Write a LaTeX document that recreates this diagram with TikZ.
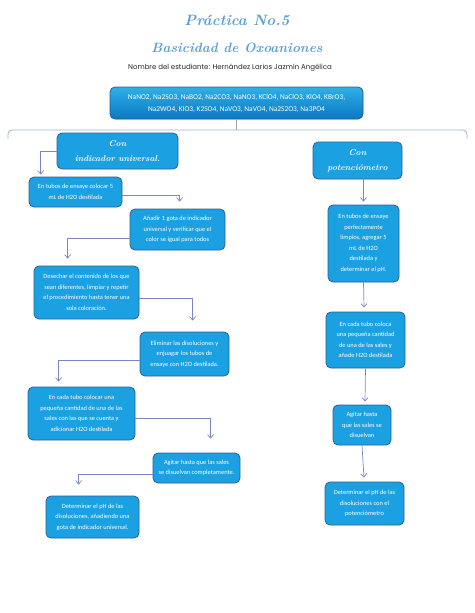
\documentclass[tikz,border=0pt]{standalone}
\usepackage{fontspec}
\setmainfont{Latin Modern Roman}
\newfontfamily\boxfont{Carlito}
\newfontfamily\subfont{Poppins}
\usetikzlibrary{arrows.meta,calc}
\definecolor{boxfill}{HTML}{1BA1E2}
\definecolor{boxedge}{HTML}{2A5F95}
\definecolor{arrcol}{HTML}{7C86C4}
\definecolor{brcol}{HTML}{9DB2D0}
\definecolor{titlecol}{HTML}{5A9FD8}
\definecolor{topA}{HTML}{2FB0E8}
\definecolor{topB}{HTML}{0A78C2}
\tikzset{
  stepbox/.style={draw=boxedge, line width=0.8pt, fill=boxfill, rounded corners=5pt,
    text=white, align=center, inner sep=1pt,
    font=\boxfont\fontsize{6.4}{10.5}\selectfont},
  headbox/.style={stepbox, font=\rmfamily\bfseries\itshape\fontsize{8.5}{15}\selectfont},
  arr/.style={draw=arrcol, line width=0.7pt, -{Straight Barb[length=3.5pt,width=6pt]}},
  brline/.style={draw=brcol, line width=0.8pt}
}
\begin{document}
\begin{tikzpicture}[x=1pt,y=-1pt]
\useasboundingbox (0,0) rectangle (474,613);
% titles
\node[text=titlecol, font=\rmfamily\bfseries\itshape\fontsize{15}{20}\selectfont] (t1) at (237,20) {Práctica No.5};
\node[text=titlecol, font=\rmfamily\bfseries\itshape\fontsize{13.5}{20}\selectfont] (t2) at (237,48) {Basicidad de Oxoaniones};
\node[text=black!85, font=\subfont\fontsize{7}{8}\selectfont] (t3) at (230,68) {Nombre del estudiante: Hernández Larios Jazmín Angélica};
% top box
\node[stepbox, top color=topA, bottom color=topB, minimum width=253pt, minimum height=32pt,
  font=\boxfont\fontsize{7.4}{12}\selectfont] (top) at (236.5,103)
  {NaNO2, Na2SO3, NaBO2, Na2CO3, NaNO3, KClO4, NaClO3, KIO4, KBrO3,\\Na2WO4, KIO3, K2SO4, NaVO3, NaVO4, Na2S2O3, Na3PO4};
% bracket
\coordinate (br) at (236.5,130);
\coordinate (brL) at (8,139);
\coordinate (brR) at (467,139);
\draw[brline, draw=gray!70] (top.south) -- (br);
\draw[brline, rounded corners=4pt] (brL) -- (8,130) -- (467,130) -- (brR);
% heads
\node[headbox, minimum width=121pt, minimum height=36pt] (ind) at (117.5,151) {Con\\indicador universal.};
\node[headbox, minimum width=89pt, minimum height=37pt] (pot) at (357.5,160.5) {Con\\potenciómetro};
% left column
\node[stepbox, minimum width=93pt, minimum height=30pt] (L1) at (75.5,192) {En tubos de ensaye colocar 5\\mL de H2O destilada};
\node[stepbox, minimum width=95pt, minimum height=41pt] (L2) at (177.5,229.5) {Añadir 1 gota de indicador\\universal y verificar que el\\color se igual para todos};
\node[stepbox, minimum width=105pt, minimum height=53pt] (L3) at (86.5,292.5) {Desechar el contenido de los que\\sean diferentes, limpiar y repetir\\el procedimiento hasta tener una\\sola coloración.};
\node[stepbox, minimum width=89pt, minimum height=44pt] (L4) at (184.5,354) {Eliminar las disoluciones y\\enjuagar los tubos de\\ensaye con H2O destilada.};
\node[stepbox, minimum width=107pt, minimum height=53pt] (L5) at (81.5,413.5) {En cada tubo colocar una\\pequeña cantidad de una de las\\sales con las que se cuenta y\\adicionar H2O destilada};
\node[stepbox, minimum width=87pt, minimum height=30pt] (L6) at (196.5,468) {Agitar hasta que las sales\\se disuelvan completamente.};
\node[stepbox, minimum width=93pt, minimum height=42pt] (L7) at (92.5,517) {Determinar el pH de las\\disoluciones, añadiendo una\\gota de indicador universal.};
% right column
\node[stepbox, minimum width=71pt, minimum height=77pt] (R1) at (363.5,243.5) {En tubos de ensaye\\perfectamente\\limpios, agregar 5\\mL de H2O\\destilada y\\determinar el pH.};
\node[stepbox, minimum width=79pt, minimum height=56pt] (R2) at (365.5,340) {En cada tubo coloca\\una pequeña cantidad\\de una de las sales y\\añade H2O destilada};
\node[stepbox, minimum width=58pt, minimum height=40pt] (R3) at (362,425) {Agitar hasta\\que las sales se\\disuelvan};
\node[stepbox, minimum width=79pt, minimum height=43pt] (R4) at (364.5,503.5) {Determinar el pH de las\\disoluciones con el\\potenciómetro};
% left arrows
\draw[arr] (ind.west) -| ([xshift=12pt,yshift=2pt]L1.north west);
\draw[arr] ([yshift=-3pt]L1.east) -| ([xshift=50pt,yshift=7pt]L2.north west);
\draw[arr] ([yshift=-8.5pt]L2.west) -| ([xshift=34pt,yshift=7pt]L3.north west);
\draw[arr] ([yshift=-5.5pt]L3.east) -| ([xshift=53pt,yshift=11pt]L4.north west);
\draw[arr] ([yshift=-6pt]L4.west) -| ([xshift=31pt,yshift=5pt]L5.north west);
\draw[arr] ([yshift=-4.5pt]L5.east) -| ([xshift=58pt,yshift=14pt]L6.north west);
\draw[arr] ([yshift=-6pt]L6.west) -| ([xshift=33pt,yshift=11pt]L7.north west);
% right arrows
\draw[arr] (pot.south -| R1.north) -- ([yshift=3pt]R1.north);
\draw[arr] (R1.south) -- ([xshift=-1.5pt,yshift=4pt]R2.north);
\draw[arr] (R2.south) -- ([xshift=3pt,yshift=3pt]R3.north);
\draw[arr] (R3.south) -- ([xshift=-0.5pt,yshift=4pt]R4.north);
\end{tikzpicture}
\end{document}
